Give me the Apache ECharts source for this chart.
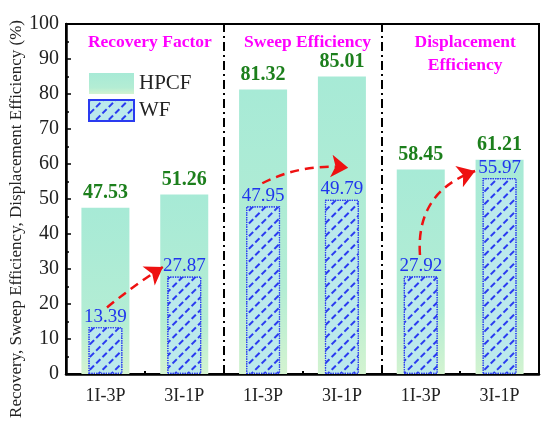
<!DOCTYPE html>
<html>
<head>
<meta charset="utf-8">
<script src="https://cdn.jsdelivr.net/npm/echarts@6/dist/echarts.min.js"></script>
<style>
  html, body { margin: 0; padding: 0; background: #fff; }
  #main { width: 550px; height: 427px; }
</style>
</head>
<body>
<div id="main"></div>
<script>
// 数据
var categories = ['1I-3P', '3I-1P', '1I-3P', '3I-1P', '1I-3P', '3I-1P'];
var hpcfValues = [47.53, 51.26, 81.32, 85.01, 58.45, 61.21];
var wfValues = [13.39, 27.87, 47.95, 49.79, 27.92, 55.97];
var yTicks = [0, 100, 10];
// 分区标题
var sectionTitles = ['Recovery Factor', 'Sweep Efficiency', 'Displacement\nEfficiency'];
// 分隔线位置 (类目序号)
var dividers = [1.5, 3.5];
// 红色箭头 [起点, 终点, 弯曲度] (类目序号, 数值)
var arrows = [
  [[0.02, 19.0], [0.73, 30.6], 0.03],
  [[1.99, 54.5], [3.08, 58.9], 0.15],
  [[3.99, 34.0], [4.69, 58.0], 0.38]
];

var serif = 'Times New Roman, DejaVu Serif, serif';
var myChart = echarts.init(document.getElementById('main'));

var gridL = 66, gridT = 24, gridR = 11, gridB = 53;
var plotW = 550 - gridL - gridR;
var catW = plotW / categories.length;

var titleGraphics = sectionTitles.map(function (t, i) {
  return {
    type: 'text',
    x: gridL + catW * (2 * i + 1) + 5,
    y: 31,
    style: {
      text: t,
      align: 'center',
      fill: '#ff00ff',
      fontFamily: serif,
      fontSize: 17.5,
      fontWeight: 'bold',
      lineHeight: 23
    }
  };
});

var option = {
  animation: false,
  textStyle: { fontFamily: serif },
  grid: {
    left: gridL, top: gridT, right: gridR, bottom: gridB,
    show: true, borderColor: '#000', borderWidth: 2
  },
  legend: {
    orient: 'vertical',
    left: 88, top: 73, padding: 0,
    itemWidth: 45, itemHeight: 21, itemGap: 5,
    data: [{ name: 'HPCF', icon: 'rect' }, { name: 'WF', icon: 'rect' }],
    textStyle: { fontFamily: serif, fontSize: 21, color: '#222' }
  },
  xAxis: [
    {
      type: 'category',
      data: categories,
      axisLine: { lineStyle: { color: '#000', width: 2.5 } },
      axisTick: { show: true, inside: true, alignWithLabel: false, length: 3, lineStyle: { color: '#000', width: 2 } },
      axisLabel: { fontFamily: serif, fontSize: 18, color: '#222', margin: 13 }
    },
    {
      type: 'value', min: -0.5, max: 5.5, show: false
    },
    {
      type: 'category', data: categories, show: true, position: 'bottom',
      axisLine: { show: false },
      axisLabel: { show: false },
      axisTick: { show: true, inside: true, alignWithLabel: true, length: 5, lineStyle: { color: '#000', width: 2 } }
    }
  ],
  yAxis: {
    type: 'value',
    min: yTicks[0], max: yTicks[1], interval: yTicks[2],
    axisLine: { show: true, onZero: false, lineStyle: { color: '#000', width: 2.5 } },
    axisTick: { show: true, inside: true, length: 5, lineStyle: { color: '#000', width: 1.5 } },
    minorTick: { show: true, splitNumber: 2, length: 3, lineStyle: { color: '#000', width: 1.5 } },
    splitLine: { show: false },
    axisLabel: { fontFamily: serif, fontSize: 20, color: '#222', margin: 7 }
  },
  graphic: titleGraphics.concat([
    {
      type: 'text',
      x: 17, y: 219,
      rotation: Math.PI / 2,
      style: {
        text: 'Recovery, Sweep Efficiency, Displacement Efficiency (%)',
        align: 'center',
        verticalAlign: 'middle',
        fill: '#222',
        fontFamily: serif,
        fontSize: 17
      }
    }
  ]),
  series: [
    {
      name: 'HPCF',
      type: 'bar',
      xAxisIndex: 0,
      barWidth: 48,
      data: hpcfValues,
      itemStyle: {
        color: new echarts.graphic.LinearGradient(0, 0, 0, 1, [
          { offset: 0, color: '#a7ead6' },
          { offset: 0.7, color: '#b4edd4' },
          { offset: 1, color: '#d3f3d0' }
        ])
      },
      label: {
        show: true, position: 'top', distance: 5,
        fontFamily: serif, fontSize: 20, fontWeight: 'bold', color: '#1c7f1c',
        formatter: function (p) { return p.value.toFixed(2); }
      },
      z: 2
    },
    {
      name: 'WF',
      type: 'bar',
      xAxisIndex: 2,
      barWidth: 34,
      data: wfValues,
      itemStyle: {
        color: '#bbe9ec',
        borderColor: '#2a3bf0',
        borderWidth: 1.2,
        borderType: 'dotted',
        decal: {
          symbol: 'rect',
          symbolSize: 1,
          color: '#2a3bf0',
          rotation: -Math.PI / 4,
          dashArrayX: [[6, 3]],
          dashArrayY: [1.6, 7]
        }
      },
      label: {
        show: true, position: 'top', distance: 1,
        fontFamily: serif, fontSize: 19, color: '#1f35ee',
        formatter: function (p) { return p.value.toFixed(2); }
      },
      z: 3
    },
    {
      // 箭头
      type: 'lines',
      coordinateSystem: 'cartesian2d',
      xAxisIndex: 1,
      symbol: ['none', 'arrow'],
      symbolSize: [0, 17],
      z: 5,
      data: arrows.map(function (a) {
        return {
          coords: [a[0], a[1]],
          lineStyle: { curveness: a[2] }
        };
      }),
      lineStyle: { color: '#ee1111', width: 2.5, type: [9, 6], opacity: 1 }
    },
    {
      // 分隔线
      type: 'scatter',
      xAxisIndex: 1,
      data: [],
      markLine: {
        silent: true,
        symbol: ['none', 'none'],
        label: { show: false },
        lineStyle: { color: '#000', width: 2, type: [9, 4, 2, 4] },
        data: dividers.map(function (d) { return { xAxis: d }; })
      }
    }
  ]
};

myChart.setOption(option);
window.addEventListener('resize', function () {
  myChart.resize();
});
</script>
</body>
</html>
